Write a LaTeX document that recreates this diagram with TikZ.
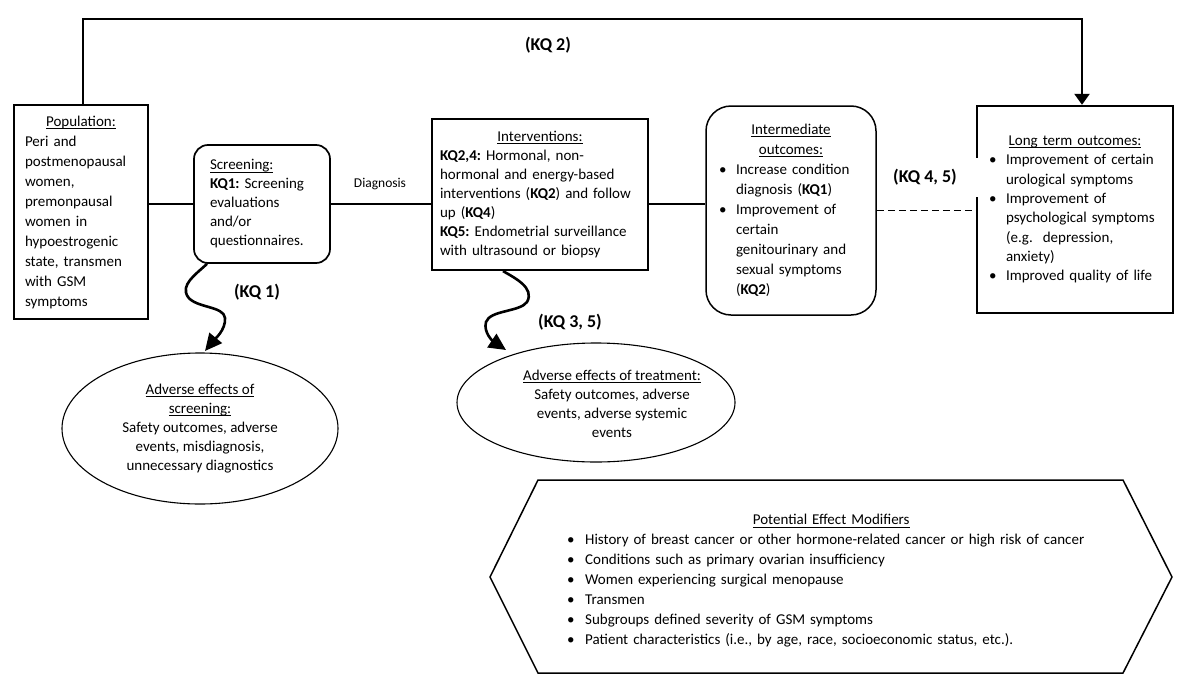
\documentclass[tikz,border=0pt]{standalone}
\usepackage{fontspec}
\setmainfont{Carlito}
\frenchspacing
\newcommand\undl[1]{\setbox0\hbox{#1}\rlap{\rule[-2.6pt]{\wd0}{0.8pt}}\box0}
\usetikzlibrary{arrows.meta,shapes.geometric,calc}
\begin{document}
\begin{tikzpicture}[x=1pt,y=-1pt,
  body/.style={font=\fontsize{15}{20}\selectfont},
  sqbox/.style={draw, line width=2.4pt, inner ysep=0pt, align=left, body},
  rbox/.style={draw, inner ysep=0pt, align=left, body},
  oval/.style={draw, ellipse, line width=1.1pt, inner sep=0pt, align=center, font=\fontsize{15}{19}\selectfont},
  kq/.style={font=\fontsize{18}{20}\selectfont\bfseries, inner sep=1pt},
  link/.style={line width=2.4pt},
  wavy/.style={line width=2.6pt, -{Triangle[length=17pt,width=16pt]}},
]
\useasboundingbox (0,0) rectangle (1190,688);

% Population
\node[sqbox, minimum width=134pt, minimum height=214pt, inner xsep=11pt, text width=112pt] (pop) at (81,212)
 {\makebox[\linewidth]{\undl{Population:}}\\ Peri and\\ postmenopausal\\ women,\\ premonpausal\\ women in\\ hypoestrogenic\\ state, transmen\\ with GSM\\ symptoms};

% Screening
\node[rbox, line width=1.7pt, rounded corners=14pt, minimum width=136pt, minimum height=118pt, inner xsep=16pt, text width=104pt, font=\fontsize{15}{19}\selectfont] (scr) at (262,204)
 {\undl{Screening:}\\ \textbf{KQ1:} Screening\\ evaluations\\ and/or\\ questionnaires.};

% Interventions
\node[sqbox, line width=2.2pt, minimum width=216pt, minimum height=151pt, inner xsep=8pt, text width=200pt, font=\fontsize{15}{19}\selectfont] (int) at (540,194.5)
 {\makebox[\linewidth]{\undl{Interventions:}}\\ \textbf{KQ2,4:} Hormonal, non-\\ hormonal and energy-based\\ interventions (\textbf{KQ2}) and follow\\ up (\textbf{KQ4})\\ \textbf{KQ5:} Endometrial surveillance\\ with ultrasound or biopsy};

% Intermediate outcomes
\node[rbox, line width=1.5pt, rounded corners=25pt, minimum width=170pt, minimum height=209pt, inner xsep=10pt, text width=150pt] (mid) at (791,210.5)
 {\makebox[\linewidth]{\undl{Intermediate}}\\ \makebox[\linewidth]{\undl{outcomes:}}\\
  \hspace*{3pt}\makebox[17pt][l]{\textbullet}Increase condition\\
  \hspace*{20pt}diagnosis (\textbf{KQ1})\\
  \hspace*{3pt}\makebox[17pt][l]{\textbullet}Improvement of\\
  \hspace*{20pt}certain\\
  \hspace*{20pt}genitourinary and\\
  \hspace*{20pt}sexual symptoms\\
  \hspace*{20pt}(\textbf{KQ2})};

% Long term outcomes
\node[sqbox, minimum width=196pt, minimum height=207pt, inner xsep=10pt, text width=176pt, font=\fontsize{15}{19.3}\selectfont] (long) at (1075,209.5)
 {\makebox[\linewidth]{\undl{Long term outcomes:}}\\
  \hspace*{2pt}\makebox[17pt][l]{\textbullet}Improvement of certain\\
  \hspace*{19pt}urological symptoms\\
  \hspace*{2pt}\makebox[17pt][l]{\textbullet}Improvement of\\
  \hspace*{19pt}psychological symptoms\\
  \hspace*{19pt}(e.g.\ \ depression,\\
  \hspace*{19pt}anxiety)\\
  \hspace*{2pt}\makebox[17pt][l]{\textbullet}Improved quality of life};

% Adverse effects ellipses
\node[oval, minimum width=276pt, minimum height=151pt] (sadv) at (200,428.5)
 {\undl{Adverse effects of}\\ \undl{screening:}\\ Safety outcomes, adverse\\ events, misdiagnosis,\\ unnecessary diagnostics};
\node[oval, minimum width=278pt, minimum height=119pt] (tadv) at (596,402.5) {};
\node[align=center, inner sep=0pt, font=\fontsize{15}{19}\selectfont] (ttxt) at (612,403.5)
 {\undl{Adverse effects of treatment:}\\ Safety outcomes, adverse\\ events, adverse systemic\\ events};

% Connectors
\draw[link] (scr.west -| pop.east) -- (scr.west);
\draw[link] (scr.east) -- (scr.east -| int.west);
\draw[link] (int.east |- scr.east) -- (mid.west |- scr.east);
\node[font=\fontsize{13.5}{15}\selectfont, inner sep=1pt] (diag) at (380,184) {Diagnosis};

\node[kq, fill=white, minimum width=100pt, minimum height=39pt] (kq45) at (928,177.5) {\hspace*{-6pt}(KQ 4, 5)};
\draw[line width=1.2pt, dash pattern=on 7pt off 4pt] (mid.east) -- (long.west |- mid.east);

\coordinate (toprt) at (1082,19);
\draw[line width=2.4pt, -{Triangle[length=11pt,width=15pt]}] ([xshift=2pt]pop.north) |- (toprt) -- (toprt |- long.north);
\node[kq] (kq2) at (548,45) {(KQ 2)};

% Wavy arrows
\coordinate (tip1) at (205,351);
\draw[wavy] ([xshift=-55pt]scr.south) .. controls (195,275) and (180,285) .. (188,297)
  .. controls (196,308) and (224,306) .. (225,318) .. controls (226,330) and (214,340) .. (tip1);
\node[kq] (kq1) at (257,292) {(KQ 1)};

\coordinate (tip2) at (506,350);
\draw[wavy] ([xshift=-37pt]int.south) .. controls (515,278) and (535,288) .. (527,302)
  .. controls (520,312) and (490,310) .. (486,322) .. controls (483,333) and (494,342) .. (tip2);
\node[kq] (kq35) at (570,322) {(KQ 3, 5)};

% Potential effect modifiers
\draw[line width=1.5pt] (490,577) -- (538,480) -- (1123,480) -- (1172,577) -- (1123,673) -- (538,673) -- cycle;
\node[anchor=west, align=left, inner sep=0pt, text width=528pt, body] (mods) at (567,581)
 {\makebox[\linewidth]{\undl{Potential Effect Modifiers}}\\
  \makebox[18pt][l]{\textbullet}History of breast cancer or other hormone-related cancer or high risk of cancer\\
  \makebox[18pt][l]{\textbullet}Conditions such as primary ovarian insufficiency\\
  \makebox[18pt][l]{\textbullet}Women experiencing surgical menopause\\
  \makebox[18pt][l]{\textbullet}Transmen\\
  \makebox[18pt][l]{\textbullet}Subgroups defined severity of GSM symptoms\\
  \makebox[18pt][l]{\textbullet}Patient characteristics (i.e., by age, race, socioeconomic status, etc.).};
\end{tikzpicture}
\end{document}
